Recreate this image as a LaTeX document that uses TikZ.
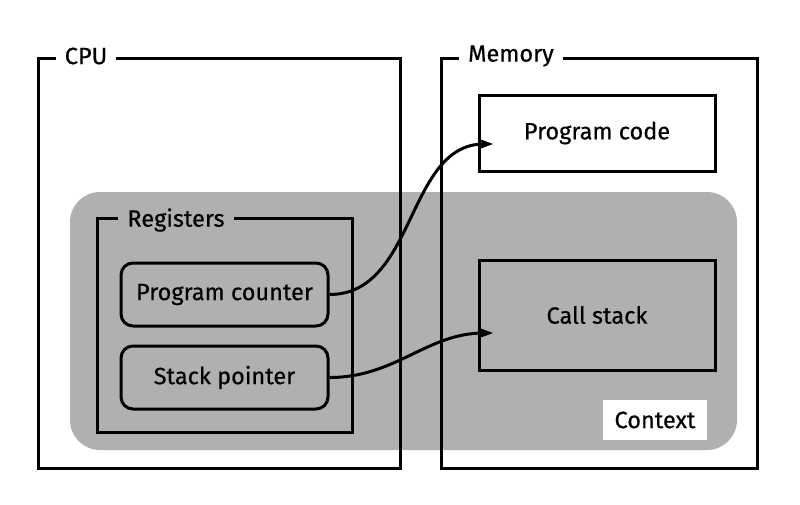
\documentclass[tikz,border=0pt]{standalone}
\usepackage{fontspec}
\setmainfont[FakeBold=0.5]{Fira Sans}
\usetikzlibrary{arrows.meta}
\definecolor{ctxgray}{RGB}{176,176,176}
\tikzset{
  txt/.style={font=\fontsize{23.5}{28}\selectfont},
  frame/.style={draw=black,line width=3pt},
  title/.style={txt,inner xsep=9pt,inner ysep=3pt},
  regbox/.style={txt,draw=black,line width=3pt,rounded corners=12pt,fill=ctxgray,minimum width=207pt,minimum height=63pt},
  membox/.style={txt,draw=black,line width=3pt,minimum width=236pt},
  link/.style={line width=3pt,-{Stealth[length=15pt,width=11pt]}}
}
\begin{document}
\begin{tikzpicture}[x=1pt,y=-1pt]
\useasboundingbox (0,0) rectangle (800,504);
% context background
\fill[ctxgray,rounded corners=30pt] (70,192) rectangle (737,450);
% CPU box
\draw[frame] (38,58) rectangle (400,468);
\node[title,fill=white] (cpu) at (86,56) {CPU};
% Memory box
\draw[frame] (441,58) rectangle (757,468);
\node[title,fill=white] (mem) at (511,56) {Memory};
% Registers box
\draw[frame] (97,218) rectangle (352,432);
\node[title,fill=ctxgray] (reg) at (176,220) {Registers};
% registers
\node[regbox] (pc) at (224.5,294.5) {\raisebox{-2pt}{Program counter}};
\node[regbox] (sp) at (224.5,377.5) {\raisebox{-2pt}{Stack pointer}};
% memory parts
\node[membox,fill=white,minimum height=76pt] (code) at (597,133) {\raisebox{-2pt}{Program code}};
\node[membox,minimum height=110pt] (stack) at (597,315) {\raisebox{-2pt}{Call stack}};
% context label
\node[txt,fill=white,minimum width=104pt,minimum height=40pt] (ctx) at (655,420) {\raisebox{-2pt}{Context}};
% arrows
\coordinate (codein) at (493,144);
\coordinate (stackin) at (493,333);
\draw[link] (pc.east) to[out=0,in=180] (codein);
\draw[link] (sp.east) to[out=0,in=180] (stackin);
\end{tikzpicture}
\end{document}
